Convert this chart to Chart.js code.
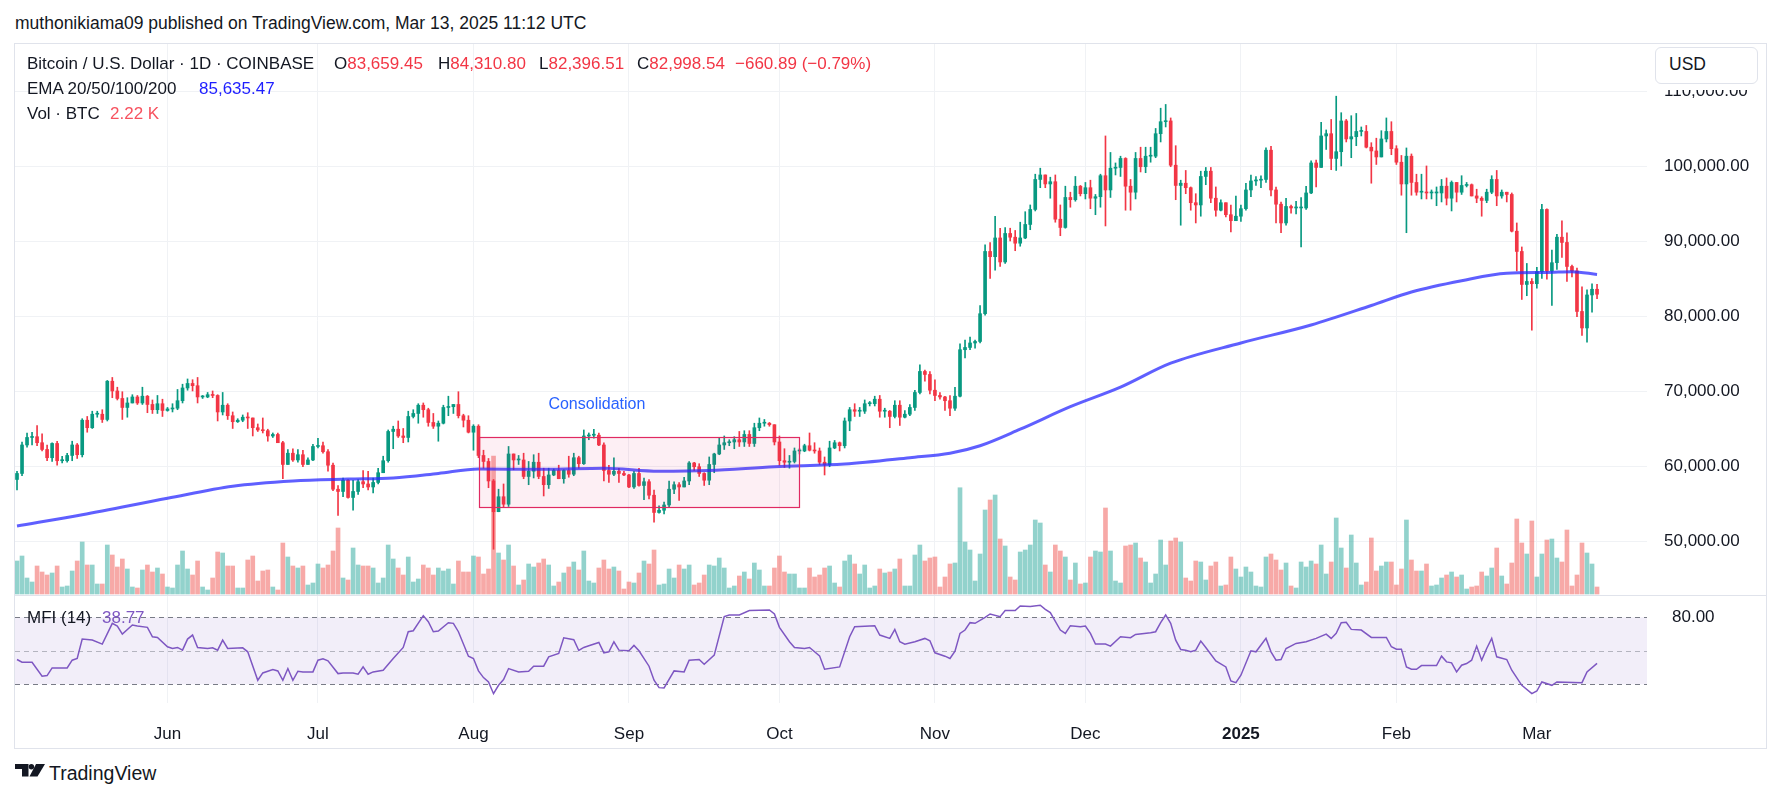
<!DOCTYPE html>
<html>
<head>
<meta charset="utf-8">
<title>BTCUSD 1D</title>
<script src="https://cdn.jsdelivr.net/npm/chart.js@4.4.1/dist/chart.umd.min.js"></script>
<style>
body { margin: 0; width: 1781px; height: 799px; background: #fff; position: relative; overflow: hidden;
       font-family: "Liberation Sans", Arial, sans-serif; color: #131722; }
.t { position: absolute; white-space: nowrap; font-size: 17px; line-height: 20px; z-index: 5; }
.red { color: #f23645; }
#frame { position: absolute; left: 14px; top: 43px; width: 1751px; height: 704px; border: 1px solid #e0e3eb; }
canvas { position: absolute; }
#sep { position: absolute; left: 15px; top: 595px; width: 1751px; height: 1px; background: #e0e3eb; z-index: 4; }
#cover { position: absolute; left: 1649px; top: 44px; width: 117px; height: 46px; background: #fff; z-index: 4; }
#usd { position: absolute; left: 1655px; top: 47px; width: 101px; height: 35px; border: 1px solid #e0e3eb;
       border-radius: 6px; background: #fff; z-index: 5; font-size: 17.5px; line-height: 33px; }
#usd span { position: absolute; left: 13px; }
</style>
</head>
<body>
<div class="t" style="left:15px; top:13px; font-size:17.5px;">muthonikiama09 published on TradingView.com, Mar 13, 2025 11:12 UTC</div>

<div id="frame"></div>
<canvas id="price" width="1751" height="553" style="left:15px; top:44px;"></canvas>
<canvas id="mfi" width="1751" height="151" style="left:15px; top:597px;"></canvas>
<div id="sep"></div>
<div id="cover"></div>
<div id="usd"><span>USD</span></div>

<div class="t" style="left:27px; top:54px;">Bitcoin / U.S. Dollar · 1D · COINBASE</div>
<div class="t" style="left:334px; top:54px;">O<span class="red">83,659.45</span></div>
<div class="t" style="left:438px; top:54px;">H<span class="red">84,310.80</span></div>
<div class="t" style="left:539px; top:54px;">L<span class="red">82,396.51</span></div>
<div class="t" style="left:637px; top:54px;">C<span class="red">82,998.54</span></div>
<div class="t red" style="left:735px; top:54px;">−660.89 (−0.79%)</div>
<div class="t" style="left:27px; top:79px;">EMA 20/50/100/200</div>
<div class="t" style="left:199px; top:79px; color:#1e1eff;">85,635.47</div>
<div class="t" style="left:27px; top:104px;">Vol · BTC</div>
<div class="t" style="left:110px; top:104px; color:#f7525f;">2.22 K</div>
<div class="t" style="left:27px; top:608px;">MFI (14)</div>
<div class="t" style="left:102px; top:608px; color:#7e57c2;">38.77</div>

<svg style="position:absolute; left:15px; top:764px;" width="30" height="13" viewBox="0 0 30 13">
  <path d="M0 0h13.5v12.5H7V5H0z" fill="#131722"/>
  <circle cx="16.4" cy="2.7" r="2.7" fill="#131722"/>
  <path d="M21 0H30l-7.5 12.5H14.5z" fill="#131722"/>
</svg>
<div class="t" style="left:49px; top:762px; font-size:19.5px; line-height:22px;">TradingView</div>

<script>
// BTC/USD daily candles, Coinbase, 2024-05-02 .. 2025-03-13 (prices in thousands of USD)
const firstDate = '2024-05-02';
const firstOpen = 58.3;

const closes = [
  59.1, 62.9, 63.9, 64.0, 63.2, 62.3, 61.2, 63.1, 60.8, 60.8,
  61.5, 62.9, 61.6, 66.2, 65.2, 67.0, 67.0, 66.3, 71.4, 70.1,
  69.1, 67.9, 68.5, 69.3, 68.5, 69.4, 68.3, 67.6, 68.4, 67.5,
  67.7, 67.8, 68.8, 70.5, 71.1, 70.8, 69.3, 69.3, 69.6, 69.5,
  67.3, 68.2, 66.8, 66.0, 66.2, 66.6, 66.5, 65.2, 64.9, 64.8,
  64.1, 64.3, 63.2, 60.3, 61.8, 60.9, 61.6, 60.3, 60.9, 62.7,
  62.8, 62.0, 60.2, 57.0, 56.7, 58.2, 55.9, 56.7, 58.0, 57.7,
  57.3, 57.9, 59.2, 60.8, 64.7, 65.0, 64.1, 63.9, 66.7, 67.1,
  68.2, 67.6, 65.9, 65.4, 65.8, 67.9, 68.0, 68.3, 66.8, 66.2,
  64.6, 65.4, 61.5, 60.7, 58.1, 54.0, 56.0, 55.0, 61.7, 60.9,
  60.9, 58.7, 59.4, 60.6, 58.7, 57.6, 58.9, 59.5, 58.4, 59.5,
  59.0, 61.2, 60.4, 64.1, 64.2, 64.2, 62.9, 59.5, 59.0, 59.4,
  59.1, 58.9, 57.3, 59.1, 57.5, 58.0, 56.2, 53.9, 54.2, 54.9,
  57.0, 57.6, 57.3, 58.1, 60.5, 60.0, 59.1, 58.2, 60.3, 61.7,
  62.9, 63.2, 63.3, 63.6, 63.3, 64.3, 63.1, 65.2, 65.8, 65.8,
  65.6, 63.3, 60.8, 60.6, 60.7, 62.1, 62.1, 62.8, 62.2, 62.1,
  60.6, 60.3, 62.5, 63.2, 62.8, 66.1, 67.6, 67.4, 67.4, 68.4,
  68.4, 69.0, 67.4, 67.4, 66.7, 68.2, 66.6, 67.0, 67.9, 69.9,
  72.7, 72.3, 70.2, 69.5, 69.3, 68.8, 67.8, 69.4, 75.6, 75.9,
  76.5, 76.7, 80.4, 88.7, 88.0, 90.5, 87.3, 91.1, 90.6, 89.8,
  90.5, 92.3, 94.3, 98.3, 98.9, 97.7, 98.0, 93.0, 91.9, 95.9,
  95.6, 97.4, 96.4, 97.2, 95.8, 96.0, 98.8, 96.9, 99.8, 99.9,
  101.1, 97.4, 96.6, 101.1, 100.0, 101.4, 101.4, 104.4, 106.0, 106.1,
  100.2, 97.5, 97.8, 97.2, 95.2, 94.9, 98.7, 99.4, 95.8, 94.2,
  95.2, 93.6, 92.8, 93.4, 94.4, 96.9, 98.1, 98.2, 98.3, 102.2,
  96.9, 95.0, 92.5, 94.7, 94.5, 94.5, 94.5, 96.5, 100.5, 99.9,
  104.1, 104.4, 101.1, 102.0, 106.1, 103.7, 104.0, 104.7, 104.7, 102.6,
  102.1, 101.3, 103.7, 104.7, 102.4, 100.6, 97.7, 101.4, 97.9, 96.6,
  96.6, 96.5, 96.5, 96.5, 97.4, 95.8, 97.9, 96.6, 97.5, 97.6,
  96.1, 95.8, 95.5, 96.6, 98.3, 96.1, 96.6, 96.3, 91.4, 88.7,
  84.3, 84.7, 84.4, 86.0, 94.3, 86.1, 87.2, 90.6, 89.9, 86.7,
  86.1, 80.7, 78.5, 82.9, 83.66, 83.0
];

const highs = [
  59.4, 63.3, 64.5, 64.6, 65.5, 64.4, 62.9, 63.2, 63.4, 61.4,
  61.8, 63.4, 63.1, 66.4, 66.7, 67.4, 67.4, 67.6, 71.5, 71.9,
  70.6, 70.0, 69.2, 69.6, 69.5, 70.6, 69.5, 68.9, 69.5, 69.0,
  67.9, 68.4, 70.3, 71.0, 71.7, 71.6, 71.9, 69.5, 69.9, 70.1,
  69.6, 69.9, 68.4, 67.3, 66.4, 66.9, 67.2, 66.5, 65.7, 66.5,
  65.0, 64.5, 64.5, 63.4, 62.3, 62.4, 62.3, 62.2, 61.2, 63.0,
  63.8, 63.3, 62.3, 60.5, 57.5, 58.5, 58.3, 58.2, 58.3, 59.5,
  59.4, 58.5, 59.8, 61.4, 64.9, 65.4, 66.1, 65.1, 67.4, 67.6,
  68.4, 68.5, 67.8, 67.1, 66.1, 68.2, 69.4, 68.3, 70.0, 67.0,
  66.8, 65.6, 65.6, 62.2, 61.1, 58.3, 57.0, 57.7, 62.7, 61.7,
  61.5, 61.8, 60.7, 61.6, 61.8, 59.8, 59.8, 59.7, 60.2, 59.6,
  61.4, 61.8, 61.4, 64.9, 64.5, 65.0, 64.5, 63.2, 60.2, 61.2,
  59.8, 59.4, 59.0, 59.4, 59.8, 58.5, 58.3, 56.9, 54.8, 55.3,
  58.1, 58.0, 57.9, 58.6, 60.7, 60.6, 60.4, 59.2, 61.3, 61.8,
  63.9, 64.1, 63.6, 64.0, 64.7, 64.8, 64.8, 65.8, 66.5, 66.3,
  65.9, 65.6, 64.1, 62.4, 61.5, 62.5, 62.4, 63.0, 64.5, 63.2,
  62.5, 61.3, 63.4, 63.5, 63.3, 66.5, 67.9, 68.4, 67.9, 68.9,
  68.7, 69.4, 69.5, 67.8, 67.5, 68.8, 68.8, 67.5, 68.3, 70.2,
  73.6, 72.9, 72.7, 71.6, 69.9, 69.4, 69.5, 70.6, 76.4, 76.9,
  77.3, 76.9, 81.5, 89.6, 89.9, 93.4, 91.8, 91.9, 91.8, 91.5,
  92.6, 94.0, 94.9, 99.0, 99.8, 98.9, 98.6, 98.9, 94.9, 97.4,
  96.6, 98.7, 97.5, 97.9, 98.2, 96.3, 99.0, 104.1, 101.9, 100.5,
  101.4, 101.2, 98.3, 101.9, 102.6, 102.6, 102.6, 105.1, 107.8, 108.3,
  106.5, 102.8, 98.2, 99.5, 97.3, 96.4, 99.4, 99.9, 99.9, 97.3,
  95.6, 95.2, 94.9, 96.1, 94.9, 97.8, 98.9, 98.7, 98.8, 102.5,
  102.7, 97.3, 95.3, 95.8, 94.9, 95.4, 95.9, 97.4, 100.8, 100.9,
  105.9, 104.9, 106.3, 109.4, 107.2, 106.3, 106.8, 107.1, 105.3, 105.5,
  103.2, 103.8, 104.8, 106.5, 106.0, 102.8, 101.5, 102.5, 101.7, 99.0,
  99.0, 100.1, 96.9, 97.3, 98.3, 98.5, 98.1, 97.9, 98.8, 97.9,
  97.7, 97.0, 96.0, 97.0, 98.8, 99.5, 96.9, 96.6, 96.5, 92.5,
  89.3, 87.1, 85.1, 86.6, 95.0, 94.4, 88.9, 91.0, 92.8, 91.2,
  86.9, 86.5, 84.0, 83.6, 84.4, 84.31
];

const lows = [
  56.9, 58.8, 62.6, 62.9, 62.8, 62.1, 60.8, 60.7, 60.2, 60.5,
  60.6, 60.8, 61.1, 61.3, 64.6, 65.1, 66.6, 65.9, 66.1, 69.2,
  68.9, 66.3, 66.6, 68.5, 68.3, 68.3, 67.2, 67.1, 67.1, 66.7,
  67.4, 67.3, 67.6, 68.5, 70.2, 70.1, 68.5, 69.1, 69.2, 69.2,
  66.1, 66.9, 66.3, 65.1, 65.9, 66.0, 65.1, 64.1, 64.7, 64.5,
  63.4, 63.9, 63.2, 58.4, 60.3, 60.7, 60.6, 60.0, 60.3, 60.8,
  62.5, 61.8, 59.4, 56.8, 53.5, 56.0, 55.8, 54.2, 56.3, 57.2,
  56.9, 56.5, 57.7, 59.2, 60.6, 62.4, 63.9, 63.2, 63.3, 66.5,
  65.8, 66.6, 65.4, 65.1, 63.4, 65.7, 66.8, 67.1, 66.5, 65.3,
  64.5, 62.2, 61.2, 59.8, 57.2, 49.0, 54.0, 54.6, 54.7, 59.6,
  60.3, 58.4, 57.6, 58.5, 58.4, 56.1, 57.1, 58.8, 58.4, 57.8,
  58.6, 58.8, 59.8, 60.3, 63.6, 63.8, 62.8, 58.1, 57.9, 58.8,
  57.9, 58.8, 57.2, 57.1, 57.4, 55.6, 55.7, 52.6, 53.8, 53.7,
  54.6, 56.4, 55.5, 57.3, 57.6, 59.5, 58.7, 57.5, 57.6, 59.2,
  61.6, 62.3, 62.8, 62.4, 62.7, 62.7, 62.7, 62.7, 64.8, 65.4,
  65.4, 62.9, 60.2, 59.9, 59.8, 60.5, 61.7, 62.0, 62.1, 61.8,
  60.3, 58.9, 60.0, 62.4, 62.1, 62.5, 64.8, 66.7, 66.7, 67.1,
  68.1, 68.1, 66.6, 66.6, 65.2, 66.5, 65.5, 66.5, 66.8, 67.5,
  69.7, 71.4, 69.7, 68.8, 69.0, 67.5, 66.8, 67.5, 69.3, 74.5,
  75.6, 75.8, 76.5, 80.2, 85.1, 86.2, 86.7, 87.1, 90.1, 88.8,
  89.4, 90.4, 91.6, 94.1, 97.2, 97.2, 95.8, 92.6, 90.8, 91.8,
  94.6, 95.4, 96.1, 95.7, 94.4, 93.6, 94.6, 92.1, 95.9, 98.9,
  98.7, 94.2, 94.2, 95.7, 99.3, 99.2, 100.6, 101.2, 103.3, 105.3,
  100.0, 95.6, 92.2, 96.4, 94.2, 92.5, 93.4, 97.6, 95.2, 93.4,
  94.1, 93.3, 91.3, 92.8, 92.7, 94.2, 96.0, 97.5, 97.2, 97.9,
  96.1, 92.5, 91.2, 92.2, 93.8, 93.7, 89.3, 94.3, 96.4, 97.3,
  99.9, 102.3, 99.6, 99.5, 100.1, 103.3, 101.2, 102.8, 104.1, 102.5,
  97.8, 100.3, 101.3, 103.3, 101.6, 100.3, 96.2, 91.2, 96.2, 96.2,
  95.7, 95.7, 95.7, 94.8, 95.3, 94.9, 94.1, 95.3, 96.3, 97.3,
  96.1, 95.2, 93.4, 95.2, 96.4, 94.8, 95.8, 95.3, 91.3, 86.1,
  82.3, 82.8, 78.2, 83.8, 85.1, 85.0, 81.5, 86.3, 87.9, 84.7,
  85.3, 80.0, 77.5, 76.6, 80.6, 82.4
];

// volume, read as bar heights (relative units)
const volumes = [
  13.2, 15.2, 6.4, 4.8, 11.2, 8.8, 7.6, 8.4, 11.2, 2.8,
  3.2, 9.2, 13.2, 20.8, 11.6, 11.6, 4.0, 4.0, 19.6, 15.6,
  10.8, 14.0, 10.0, 2.8, 2.4, 9.6, 11.6, 8.8, 10.4, 8.0,
  2.8, 2.4, 11.6, 17.2, 10.0, 7.6, 13.2, 2.8, 1.6, 6.4,
  16.8, 16.4, 11.2, 11.2, 2.4, 2.4, 13.6, 15.2, 5.2, 9.2,
  9.6, 2.8, 1.6, 20.4, 14.8, 11.2, 10.4, 11.2, 3.6, 4.4,
  12.0, 10.4, 11.6, 17.2, 26.4, 6.4, 5.6, 18.4, 11.6, 11.2,
  11.2, 10.4, 4.4, 6.4, 19.6, 14.0, 10.4, 7.6, 14.8, 4.8,
  6.0, 11.6, 10.4, 7.6, 10.4, 9.2, 10.0, 4.0, 13.2, 8.8,
  8.8, 15.2, 14.8, 8.0, 10.0, 55.2, 16.4, 13.6, 19.6, 11.2,
  3.6, 5.6, 12.0, 10.8, 12.4, 14.0, 11.6, 3.2, 4.8, 8.4,
  10.8, 12.8, 9.6, 17.2, 5.2, 4.4, 10.4, 13.6, 10.0, 10.8,
  9.2, 2.0, 4.8, 4.4, 8.4, 13.2, 12.0, 17.6, 3.6, 4.0,
  10.0, 6.4, 11.6, 10.0, 11.6, 3.6, 4.4, 7.6, 11.6, 11.2,
  14.4, 10.4, 2.4, 3.2, 7.2, 8.8, 6.0, 12.4, 9.6, 3.2,
  3.2, 10.4, 15.2, 8.8, 8.0, 8.0, 2.4, 2.4, 10.4, 6.8,
  7.6, 10.4, 11.2, 4.4, 2.8, 13.2, 15.6, 12.0, 8.0, 11.6,
  2.4, 3.2, 10.0, 8.4, 8.8, 10.0, 14.0, 3.2, 3.2, 15.6,
  19.6, 13.2, 14.4, 14.8, 2.8, 6.8, 12.0, 12.4, 42.5, 20.8,
  17.6, 5.2, 16.0, 33.6, 37.6, 39.6, 22.0, 19.2, 6.8, 5.6,
  16.8, 17.6, 19.6, 29.6, 28.4, 11.6, 8.8, 19.6, 17.2, 14.8,
  5.6, 12.4, 4.0, 4.4, 14.8, 17.2, 16.8, 34.4, 17.2, 5.2,
  4.4, 19.2, 19.6, 20.4, 14.4, 12.8, 4.4, 8.0, 21.6, 11.6,
  21.2, 22.4, 20.8, 6.4, 5.2, 13.2, 12.8, 5.6, 11.2, 12.8,
  3.2, 3.6, 14.8, 10.0, 6.8, 10.8, 8.8, 3.2, 2.8, 14.8,
  16.0, 13.6, 9.6, 12.4, 3.2, 2.4, 12.8, 10.8, 13.2, 12.0,
  19.6, 8.0, 12.8, 30.4, 18.4, 10.4, 23.6, 12.4, 3.6, 4.8,
  22.4, 9.2, 11.2, 12.8, 12.8, 3.6, 10.0, 29.6, 13.6, 9.2,
  9.2, 12.0, 3.2, 3.6, 6.4, 7.6, 8.8, 6.8, 7.6, 2.0,
  2.8, 3.2, 8.8, 7.2, 10.4, 18.4, 7.2, 4.0, 12.4, 30.0,
  20.4, 16.0, 29.2, 6.8, 16.0, 21.6, 22.0, 14.4, 12.8, 25.6,
  3.2, 7.6, 20.4, 16.4, 12.0, 2.8
];

// EMA 200: [day index, value in thousands]
const emaPoints = [
  [0, 52.1], [13, 53.6], [30, 55.8], [43, 57.4], [55, 58.1], [66, 58.35], [75, 58.5],
  [84, 59.1], [92, 59.7], [105, 59.65], [117, 59.8], [128, 59.4], [138, 59.5], [151, 60.0],
  [165, 60.35], [178, 61.2], [186, 61.8], [192, 62.8], [200, 65.0], [210, 68.0], [220, 70.6],
  [230, 73.8], [244, 76.5], [258, 78.9], [270, 81.5], [278, 83.3], [288, 84.8], [297, 85.8],
  [305, 85.9], [310, 86.0], [315, 85.64]
];

// MFI (14) vertices: [day index, value]
const mfiPoints = [
  [0, 42.2], [1, 39.8], [3, 39.8], [5, 27.2], [6, 27.8], [7, 34.7], [10, 34.7], [11, 41.6], [12, 43.1],
  [13, 60.5], [15, 59.6], [17, 56], [19, 74.6], [20, 72.2], [21, 65], [23, 73.1], [24, 72.2], [26, 71],
  [27, 62.6], [28, 62], [30, 53.6], [31, 52.1], [32, 53], [33, 50.6], [34, 60.5], [35, 64.1], [36, 53],
  [38, 52.1], [39, 52.7], [40, 50.6], [41, 59.6], [42, 52.1], [45, 52.7], [46, 49.1], [48, 23.6],
  [49, 30.2], [51, 33.2], [52, 32], [53, 23.6], [54, 34.1], [55, 23.6], [56, 31.7], [57, 31.1],
  [59, 31.1], [60, 41.6], [61, 42.8], [62, 41], [64, 29.6], [65, 30.2], [67, 30.2], [68, 29],
  [69, 35.6], [70, 29], [71, 31.1], [73, 32.6], [75, 43.1], [77, 53], [78, 67.1], [79, 68],
  [81, 81.5], [82, 76.1], [83, 67.1], [84, 67.7], [86, 75.2], [87, 74.6], [88, 67.1], [90, 45.2],
  [91, 43.1], [92, 32], [93, 26], [94, 22.1], [95, 11.6], [96, 19.1], [97, 24.2], [98, 34.1],
  [100, 31.1], [102, 31.7], [103, 36.2], [105, 36.2], [106, 44.6], [108, 47.6], [109, 61.7],
  [111, 59.9], [112, 50.3], [113, 53], [114, 54.5], [116, 57.5], [117, 48.2], [118, 49.1],
  [119, 58.1], [120, 50.6], [122, 50], [123, 54.8], [124, 50], [126, 36.2], [127, 23.6], [128, 17],
  [129, 16.7], [131, 32], [133, 31.1], [134, 41.6], [136, 42.2], [137, 38], [139, 46.1], [141, 80.6],
  [142, 82.1], [144, 82.1], [146, 86], [150, 86.6], [151, 83], [152, 71], [154, 58.1], [155, 53],
  [157, 52.1], [158, 53], [160, 45.5], [161, 33.5], [164, 35.6], [166, 62.6], [167, 71.6],
  [171, 72.5], [172, 64.1], [174, 61.1], [175, 69.2], [176, 58.1], [177, 56], [179, 58.1],
  [181, 61.1], [182, 59], [183, 48.2], [185, 45.2], [186, 43.1], [187, 49.7], [188, 65.6],
  [189, 68.6], [190, 75.2], [191, 74.6], [193, 80], [194, 83], [196, 80.6], [197, 86], [199, 86],
  [200, 90.2], [202, 89.6], [204, 90.8], [205, 87.2], [206, 84.2], [208, 68.6], [209, 65.6],
  [210, 72.5], [212, 71.6], [213, 72.2], [214, 65.6], [215, 56], [217, 56], [218, 54.2],
  [220, 62.6], [222, 61.7], [223, 64.7], [226, 66.2], [227, 67.1], [228, 75.2], [229, 82.1],
  [230, 74.6], [231, 59.6], [232, 51.2], [233, 50.6], [234, 49.1], [235, 50.6], [236, 58.7],
  [237, 53], [239, 41], [241, 35.6], [242, 23], [243, 21.5], [244, 28.1], [246, 50], [247, 49.1],
  [249, 61.1], [250, 49.1], [251, 41.6], [252, 42.2], [253, 52.1], [255, 56.6], [257, 58.1],
  [259, 61.1], [261, 65], [262, 61.1], [263, 65.6], [264, 75.2], [265, 75.5], [266, 69.2],
  [268, 68.6], [270, 62], [273, 62], [274, 53.6], [275, 51.5], [276, 51.5], [277, 35.6],
  [278, 33.5], [279, 33.5], [280, 36.8], [283, 36.8], [284, 45.2], [285, 40.1], [286, 39.2],
  [287, 31.1], [288, 37.1], [289, 38.6], [290, 41.6], [291, 54.2], [292, 41.6], [293, 52.1],
  [294, 61.1], [295, 44.6], [297, 42.2], [298, 32.6], [300, 19.1], [302, 11.6], [303, 14],
  [304, 22.1], [306, 19.1], [307, 22.1], [312, 21.5], [313, 31.1], [315, 38.77]
];

const monthTickDates = ['2024-06-01', '2024-07-01', '2024-08-01', '2024-09-01', '2024-10-01',
                        '2024-11-01', '2024-12-01', '2025-01-01', '2025-02-01', '2025-03-01'];
const monthTickLabels = ['Jun', 'Jul', 'Aug', 'Sep', 'Oct', 'Nov', 'Dec', '2025', 'Feb', 'Mar'];
const priceTicks = [50, 60, 70, 80, 90, 100, 110];
const mfiTicks = [80];
const mfiLevels = [20, 50, 80];

// consolidation rectangle drawn on the chart (day range, price range)
const boxDays = [92.2, 156.0];
const boxPrices = [54.58, 63.9];
const boxLabel = 'Consolidation';
const boxLabelAt = [115.6, 68.3];

const UP = '#089981', DOWN = '#f23645';
const VOL_UP = 'rgba(38, 166, 154, 0.5)', VOL_DOWN = 'rgba(239, 83, 80, 0.5)';
const GRID = '#f0f2f5';
const TEXT = '#131722';
const FONT = "'Liberation Sans', Arial, sans-serif";

Chart.defaults.font.family = FONT;

const dayOf = d => Math.round((Date.parse(d) - Date.parse(firstDate)) / 86400000);
const monthDays = monthTickDates.map(dayOf);
const days = closes.map((c, i) => i);
const opens = closes.map((c, i) => i === 0 ? firstOpen : closes[i - 1]);
const isUp = closes.map((c, i) => c >= opens[i]);

const X_MIN = -0.4, X_MAX = 324.96;

function xAxis(showLabels) {
    return {
        type: 'linear', min: X_MIN, max: X_MAX, offset: false,
        afterBuildTicks: s => { s.ticks = monthDays.map(v => ({ value: v })); },
        afterFit: s => { s.height = showLabels ? 45 : 0; s.paddingLeft = 0; s.paddingRight = 0; },
        grid: { color: GRID, drawTicks: false, offset: false },
        border: { display: false },
        ticks: {
            display: showLabels, autoSkip: false, maxRotation: 0, padding: 21, color: TEXT,
            font: ctx => ({ size: 17, weight: ctx.tick && ctx.tick.label === '2025' ? 'bold' : 'normal' }),
            callback: v => { const k = monthDays.indexOf(v); return k >= 0 ? monthTickLabels[k] : ''; }
        }
    };
}

const boxPlugin = {
    id: 'consolidation',
    afterDatasetsDraw(chart) {
        const { ctx, scales: { x, y } } = chart;
        const x1 = Math.round(x.getPixelForValue(boxDays[0])) + 0.5;
        const x2 = Math.round(x.getPixelForValue(boxDays[1])) + 0.5;
        const y1 = Math.round(y.getPixelForValue(boxPrices[1])) + 0.5;
        const y2 = Math.round(y.getPixelForValue(boxPrices[0])) + 0.5;
        ctx.save();
        ctx.fillStyle = 'rgba(233, 30, 99, 0.07)';
        ctx.fillRect(x1, y1, x2 - x1, y2 - y1);
        ctx.strokeStyle = '#e02a62';
        ctx.lineWidth = 1.2;
        ctx.strokeRect(x1, y1, x2 - x1, y2 - y1);
        ctx.fillStyle = '#2962ff';
        ctx.font = '16px ' + FONT;
        ctx.textAlign = 'center';
        ctx.textBaseline = 'middle';
        ctx.fillText(boxLabel, x.getPixelForValue(boxLabelAt[0]), y.getPixelForValue(boxLabelAt[1]));
        ctx.restore();
    }
};

new Chart(document.getElementById('price'), {
    type: 'bar',
    data: {
        datasets: [
            {
                type: 'line', label: 'EMA 200',
                data: emaPoints.map(p => ({ x: p[0], y: p[1] })),
                borderColor: 'rgba(41, 41, 255, 0.75)', borderWidth: 3, pointRadius: 0,
                cubicInterpolationMode: 'monotone', yAxisID: 'y', order: 0
            },
            {
                label: 'Body',
                data: days.map(i => ({ x: i, y: [opens[i], closes[i]] })),
                backgroundColor: days.map(i => isUp[i] ? UP : DOWN),
                barThickness: 3, minBarLength: 1, grouped: false, yAxisID: 'y', order: 1
            },
            {
                label: 'Wick',
                data: days.map(i => ({ x: i, y: [lows[i], highs[i]] })),
                backgroundColor: days.map(i => isUp[i] ? UP : DOWN),
                barThickness: 1, grouped: false, yAxisID: 'y', order: 2
            },
            {
                label: 'Volume',
                data: days.map(i => ({ x: i, y: volumes[i] })),
                backgroundColor: days.map(i => isUp[i] ? VOL_UP : VOL_DOWN),
                barThickness: 4, grouped: false, yAxisID: 'yv', order: 3
            }
        ]
    },
    options: {
        responsive: false, animation: false, events: [],
        layout: { padding: 0 },
        plugins: { legend: { display: false }, tooltip: { enabled: false } },
        scales: {
            x: xAxis(false),
            y: {
                position: 'right', min: 42.63, max: 116.36,
                afterBuildTicks: s => { s.ticks = priceTicks.map(v => ({ value: v })); },
                afterFit: s => { s.width = 119; s.paddingTop = 0; s.paddingBottom = 0; },
                grid: { color: GRID, drawTicks: false },
                border: { display: false },
                ticks: {
                    padding: 17, color: TEXT, font: { size: 17 },
                    callback: v => (v * 1000).toLocaleString('en-US', { minimumFractionDigits: 2, maximumFractionDigits: 2 })
                }
            },
            yv: { display: false, min: -1.2, max: 220 }
        }
    },
    plugins: [boxPlugin]
});

const mfiBandPlugin = {
    id: 'mfiBands',
    beforeDatasetsDraw(chart) {
        const { ctx, chartArea: a, scales: { y } } = chart;
        const yLow = y.getPixelForValue(mfiLevels[0]);
        const yMid = y.getPixelForValue(mfiLevels[1]);
        const yHigh = y.getPixelForValue(mfiLevels[2]);
        ctx.save();
        ctx.fillStyle = 'rgba(126, 87, 194, 0.1)';
        ctx.fillRect(a.left, yHigh, a.right - a.left, yLow - yHigh);
        ctx.lineWidth = 1;
        ctx.setLineDash([5, 4]);
        [[yHigh, '#787b86'], [yMid, 'rgba(120, 123, 134, 0.5)'], [yLow, '#787b86']].forEach(([py, col]) => {
            ctx.strokeStyle = col;
            ctx.beginPath();
            ctx.moveTo(a.left, Math.round(py) + 0.5);
            ctx.lineTo(a.right, Math.round(py) + 0.5);
            ctx.stroke();
        });
        ctx.restore();
    }
};

new Chart(document.getElementById('mfi'), {
    type: 'line',
    data: {
        datasets: [{
            label: 'MFI',
            data: mfiPoints.map(p => ({ x: p[0], y: p[1] })),
            borderColor: '#7e57c2', borderWidth: 1.5, pointRadius: 0, tension: 0
        }]
    },
    options: {
        responsive: false, animation: false, events: [],
        layout: { padding: 0 },
        plugins: { legend: { display: false }, tooltip: { enabled: false } },
        scales: {
            x: xAxis(true),
            y: {
                position: 'right', min: 3.25, max: 98.2,
                afterBuildTicks: s => { s.ticks = mfiTicks.map(v => ({ value: v })); },
                afterFit: s => { s.width = 119; s.paddingTop = 0; s.paddingBottom = 0; },
                grid: { display: false },
                border: { display: false },
                ticks: { padding: 17, color: TEXT, font: { size: 17 }, callback: v => v.toFixed(2) }
            }
        }
    },
    plugins: [mfiBandPlugin]
});
</script>
</body>
</html>
